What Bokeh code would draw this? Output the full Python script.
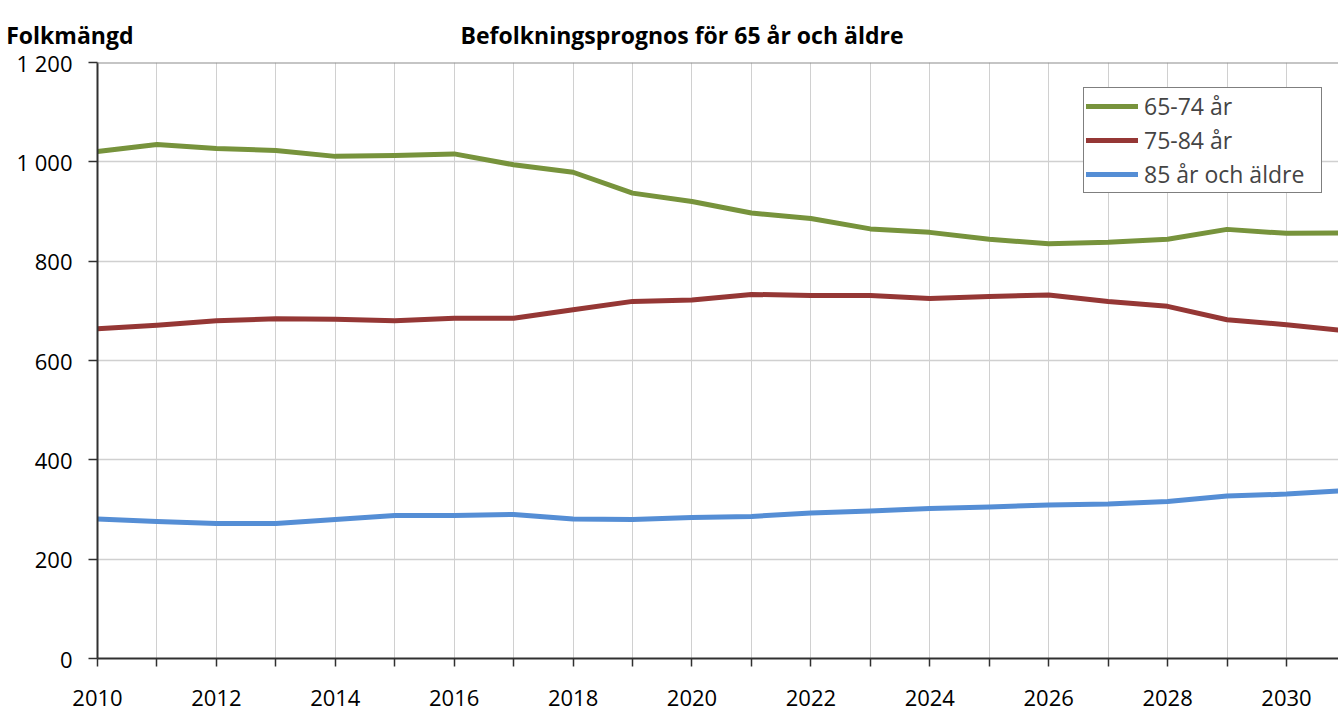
from bokeh.plotting import figure
from bokeh.models import FixedTicker, Legend, LegendItem, Span, LinearAxis
from bokeh.embed import file_html
from bokeh.resources import INLINE

# ---- data ----
years = list(range(2010, 2032))
age_65_74 = [1021, 1035, 1027, 1023, 1011, 1013, 1016, 994, 979, 937, 920,
             897, 886, 865, 858, 844, 835, 838, 844, 864, 856, 857]
age_75_84 = [664, 671, 680, 684, 683, 680, 685, 685, 702, 719, 722,
             733, 731, 731, 725, 729, 732, 719, 709, 682, 672, 660]
age_85_plus = [281, 276, 272, 272, 280, 288, 288, 290, 281, 280, 284,
               286, 293, 297, 302, 305, 309, 311, 316, 327, 331, 338]
series_names = ["65-74 år", "75-84 år", "85 år och äldre"]
series_colors = ["#77933C", "#953735", "#558ED5"]
y_ticks = [0, 200, 400, 600, 800, 1000, 1200]
y_tick_labels = ["0", "200", "400", "600", "800", "1 000", "1 200"]
x_label_years = list(range(2010, 2032, 2))
title_text = "Befolkningsprognos för 65 år och äldre"
caption_text = "Folkmängd"

FONT = "Open Sans"
X0, X1 = 2010, 2030.875
Y0, Y1 = 0, 1200
FRAME_LEFT = 97
FRAME_W = 1241
px_per_year = FRAME_W / (X1 - X0)

p = figure(width=1338, height=711, output_backend="svg", toolbar_location=None,
           title_location=None,
           x_range=(X0, X1), y_range=(Y0, Y1),
           min_border_left=FRAME_LEFT, min_border_right=0, min_border_top=62, min_border_bottom=53)
p.outline_line_color = None
p.background_fill_color = "white"
p.border_fill_color = "white"

renderers = []
for vals, color in zip([age_65_74, age_75_84, age_85_plus], series_colors):
    r = p.line(years, vals, line_color=color, line_width=5, line_join="round", line_cap="round")
    renderers.append(r)

# axes
p.xaxis.ticker = FixedTicker(ticks=years)
p.xaxis.major_label_overrides = {y: (str(y) if y in x_label_years else "") for y in years}
p.yaxis.ticker = FixedTicker(ticks=y_ticks)
p.yaxis.major_label_overrides = {t: l for t, l in zip(y_ticks, y_tick_labels)}

for ax in (p.xaxis, p.yaxis):
    ax.axis_line_color = "#303030"
    ax.axis_line_width = 2
    ax.major_tick_line_color = "#303030"
    ax.major_tick_line_width = 1.5
    ax.major_tick_in = 0
    ax.minor_tick_line_color = None
    ax.major_label_text_font = FONT
    ax.major_label_text_font_size = "22px"
    ax.major_label_text_color = "#000000"
p.xaxis.major_tick_out = 8
p.yaxis.major_tick_out = 9
p.xaxis.major_label_standoff = 23
p.yaxis.major_label_standoff = 16

p.xgrid.ticker = FixedTicker(ticks=years)
p.ygrid.ticker = FixedTicker(ticks=y_ticks)
p.xgrid.grid_line_color = "#d0d0d0"
p.ygrid.grid_line_color = "#d0d0d0"
p.xgrid.grid_line_width = 1
p.ygrid.grid_line_width = 1.5

p.add_layout(Span(location=1200, dimension="width", line_color="#8c8c8c", line_width=2))

# legend
legend = Legend(items=[LegendItem(label=n, renderers=[r]) for n, r in zip(series_names, renderers)],
                location=(986, 465))
legend.border_line_color = "black"
legend.border_line_width = 1
legend.background_fill_color = "white"
legend.background_fill_alpha = 1
legend.padding = 2
legend.spacing = 2
legend.label_height = 22
legend.glyph_height = 22
legend.glyph_width = 52
legend.label_width = 175
legend.label_standoff = 6
legend.label_text_font = FONT
legend.label_text_font_size = "23px"
legend.margin = 0
p.add_layout(legend)

# caption ("Folkmängd") and chart title: right-aligned labels of a bare axis above the frame
# (a tiny negative label angle makes the labels end at their tick)
caption_x = X0 + (133 - FRAME_LEFT) / px_per_year    # right edge of the caption
title_x = X0 + (903 - FRAME_LEFT) / px_per_year      # right edge of the chart title
head = LinearAxis(ticker=FixedTicker(ticks=[caption_x, title_x]),
                  major_label_overrides={caption_x: caption_text, title_x: title_text},
                  axis_line_color=None, major_tick_line_color=None, minor_tick_line_color=None,
                  major_tick_out=0, major_tick_in=0, major_label_standoff=27,
                  major_label_orientation=-0.0001,
                  major_label_text_font=FONT, major_label_text_font_style="bold",
                  major_label_text_font_size="23px", major_label_text_color="black")
p.add_layout(head, "above")

open("out.html", "w").write(file_html(p, INLINE))
